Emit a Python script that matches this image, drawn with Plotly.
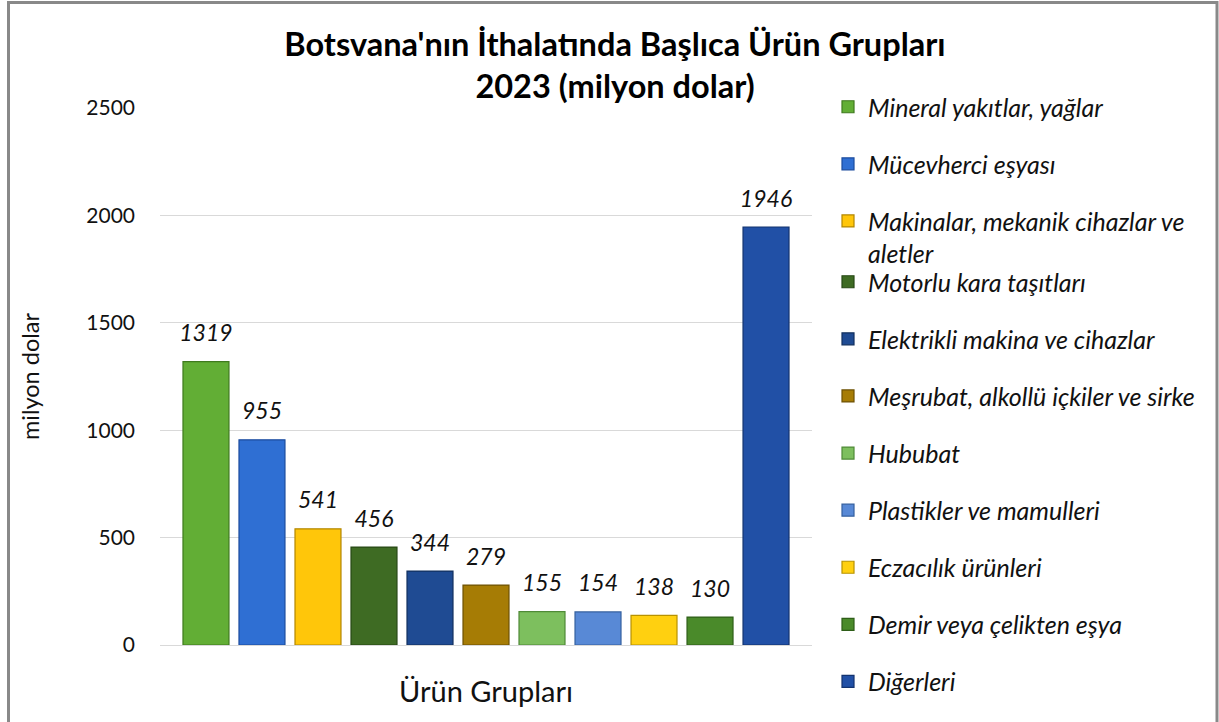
import plotly.graph_objects as go

categories = [
    "Mineral yakıtlar, yağlar",
    "Mücevherci eşyası",
    "Makinalar, mekanik cihazlar ve<br>aletler",
    "Motorlu kara taşıtları",
    "Elektrikli makina ve cihazlar",
    "Meşrubat, alkollü içkiler ve sirke",
    "Hububat",
    "Plastikler ve mamulleri",
    "Eczacılık ürünleri",
    "Demir veya çelikten eşya",
    "Diğerleri",
]
values = [1319, 955, 541, 456, 344, 279, 155, 154, 138, 130, 1946]
colors = ["#62AE35", "#2F6FD3", "#FFC60A", "#3E6B23", "#1F4B93", "#A67C05",
          "#7DBF5E", "#5889D6", "#FFD010", "#4A8A2A", "#2150A6"]
edge_colors = ["#3F7A1E", "#1C4C9E", "#B38600", "#274815", "#12305F", "#6E5103",
               "#4F8A37", "#34609F", "#B89200", "#2E5E18", "#13336F"]
y_ticks = [0, 500, 1000, 1500, 2000, 2500]

FONT = "Lato"
W, H = 1219, 722
ML, MR, MT, MB = 160, 407, 108, 77
PW, PH = W - ML - MR, H - MT - MB

def px_x(px):
    return (px - ML) / PW

def px_y(py):
    return (H - MB - py) / PH

keys = [str(i) for i in range(len(values))]

fig = go.Figure()
for i, (name, val) in enumerate(zip(categories, values)):
    fig.add_trace(go.Bar(
        x=[keys[i]], y=[val], name=name,
        marker=dict(color=colors[i], line=dict(color=edge_colors[i], width=1.2)),
        legend="legend" if i < 3 else "legend2",
        legendgroup=keys[i],
        hoverinfo="y",
    ))

# data labels
fig.add_trace(go.Scatter(
    x=keys, y=values, mode="markers+text",
    text=[str(v) for v in values], textposition="top center",
    marker=dict(size=22, opacity=0),
    textfont=dict(family=FONT, size=23, color="#111111", style="italic"),
    showlegend=False, cliponaxis=False, hoverinfo="skip",
))

fig.update_layout(
    width=W, height=H,
    margin=dict(l=ML, r=MR, t=MT, b=MB, autoexpand=False),
    paper_bgcolor="white", plot_bgcolor="white",
    barmode="overlay", bargap=0.179,
    title=dict(
        text="Botsvana'nın İthalatında Başlıca Ürün Grupları<br>2023 (milyon dolar)",
        x=615 / W, xanchor="center", xref="container",
        y=1 - 56 / H, yanchor="top", yref="container",
        font=dict(family=FONT, size=32.5, color="black", weight="bold"),
    ),
    xaxis=dict(
        type="category", range=[-0.821, 10.821], showticklabels=False,
        showgrid=False, zeroline=False, showline=False, ticks="",
        title=dict(text="Ürün Grupları", font=dict(family=FONT, size=29, color="#111111"), standoff=36),
    ),
    yaxis=dict(
        range=[0, 2500], tickvals=y_ticks, showgrid=True, gridcolor="#D9D9D9", gridwidth=1.3,
        zeroline=True, zerolinecolor="#D9D9D9", zerolinewidth=1.3, showline=False, ticks="",
        ticklabelstandoff=24,
        tickfont=dict(family=FONT, size=21, color="#111111"),
        title=dict(text="milyon dolar", font=dict(family=FONT, size=23.5, color="#111111"), standoff=40),
    ),
    legend=dict(
        x=px_x(828), xanchor="left", y=px_y(84), yanchor="top",
        font=dict(family=FONT, size=25, color="#111111", style="italic"),
        tracegroupgap=21.6, valign="top", bgcolor="rgba(0,0,0,0)",
    ),
    legend2=dict(
        x=px_x(828), xanchor="left", y=px_y(259), yanchor="top",
        font=dict(family=FONT, size=25, color="#111111", style="italic"),
        tracegroupgap=21.6, valign="top", bgcolor="rgba(0,0,0,0)",
    ),
    shapes=[dict(
        type="rect", xref="paper", yref="paper",
        x0=px_x(8.5), x1=px_x(1217), y0=px_y(760), y1=px_y(2.5),
        line=dict(color="#898989", width=3), fillcolor="rgba(0,0,0,0)", layer="above",
    )],
)

fig.write_html(
    "out.html",
    config={"displayModeBar": False},
    post_script="document.body.style.margin='0';document.body.style.overflow='hidden';",
)
